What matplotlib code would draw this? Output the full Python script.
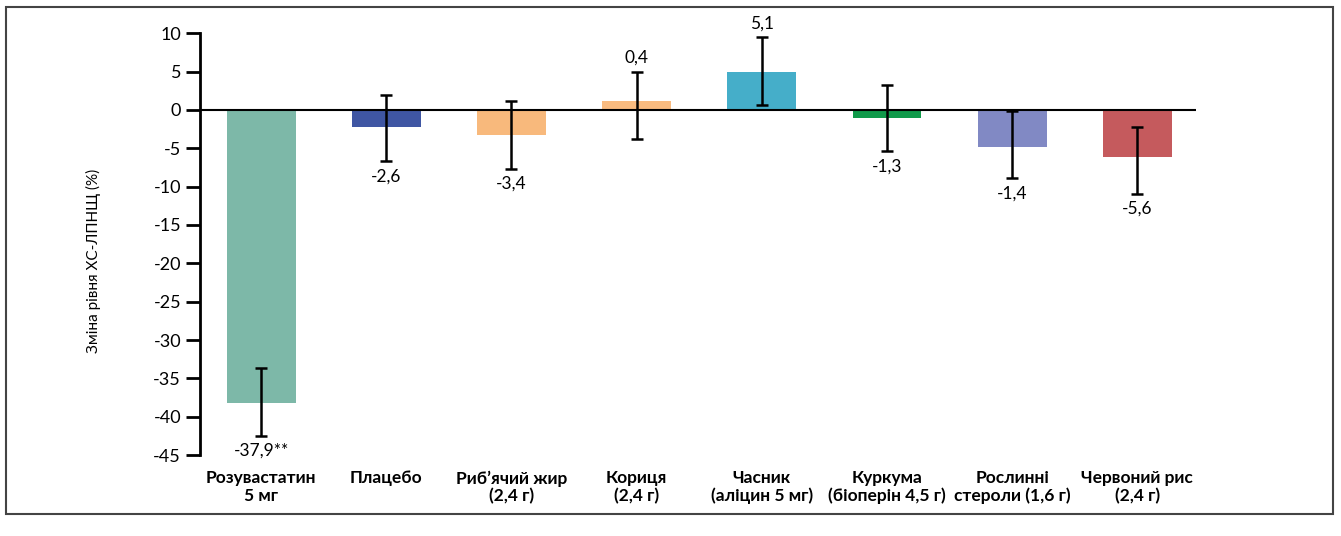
import matplotlib
matplotlib.use("Agg")
import matplotlib.pyplot as plt
from matplotlib.patches import Rectangle

plt.rcParams['font.family'] = ['Lato', 'DejaVu Sans']
plt.rcParams['axes.unicode_minus'] = False

# дані з рисунку
categories = ["Розувастатин\n5 мг", "Плацебо", "Риб’ячий жир\n(2,4 г)", "Кориця\n(2,4 г)",
              "Часник\n(аліцин 5 мг)", "Куркума\n(біоперін 4,5 г)",
              "Рослинні\nстероли (1,6 г)", "Червоний рис\n(2,4 г)"]
bar_values = [-38.2, -2.2, -3.3, 1.2, 5.0, -1.0, -4.8, -6.2]
err_top = [-33.7, 1.9, 1.2, 5.0, 9.5, 3.2, -0.1, -2.2]
err_bottom = [-42.5, -6.7, -7.7, -3.8, 0.7, -5.4, -8.9, -10.9]
value_labels = ["-37,9**", "-2,6", "-3,4", "0,4", "5,1", "-1,3", "-1,4", "-5,6"]
colors = ["#7db8a8", "#3f56a3", "#f8b97c", "#f9bb80", "#45aec9", "#109a4a", "#8189c4", "#c55a5d"]

fig = plt.figure(figsize=(13.41, 5.36), dpi=100)
ax = fig.add_axes([0.149, 0.151, 0.743, 0.787])

x = list(range(len(categories)))
ax.bar(x, bar_values, width=0.55, color=colors, zorder=2)
yerr = [[v - lo for v, lo in zip(bar_values, err_bottom)],
        [hi - v for v, hi in zip(bar_values, err_top)]]
ax.errorbar(x, bar_values, yerr=yerr, fmt='none', ecolor='black',
            elinewidth=1.8, capsize=4, capthick=1.8, zorder=4)
ax.axhline(0, color='black', lw=1.5, zorder=3)

for i, lab in enumerate(value_labels):
    if bar_values[i] > 0:
        ax.annotate(lab, (x[i], err_top[i]), xytext=(0, 4), textcoords='offset points',
                    ha='center', va='bottom', fontsize=12.5)
    else:
        ax.annotate(lab, (x[i], err_bottom[i]), xytext=(0, -5), textcoords='offset points',
                    ha='center', va='top', fontsize=12.5)

ax.set_xlim(-0.49, 7.47)
ax.set_ylim(-45, 10)
ax.set_yticks(range(-45, 11, 5))
ax.set_xticks(x)
ax.set_xticklabels(categories, fontsize=12.5, fontweight='bold', linespacing=1.1)
ax.tick_params(axis='x', length=0, pad=11)
ax.tick_params(axis='y', length=10, width=2, labelsize=13)
for s in ['top', 'right', 'bottom']:
    ax.spines[s].set_visible(False)
ax.spines['left'].set_linewidth(2)
ax.set_ylabel("Зміна рівня ХС-ЛПНЩ (%)", fontsize=11)
ax.yaxis.set_label_coords(-0.099, 0.46)

# рамка навколо рисунку
fig.patches.append(Rectangle((0.0045, 0.041), 0.9895, 0.946, transform=fig.transFigure,
                             fill=False, edgecolor='#444444', lw=1.5))

fig.savefig("out.png", dpi=100)
